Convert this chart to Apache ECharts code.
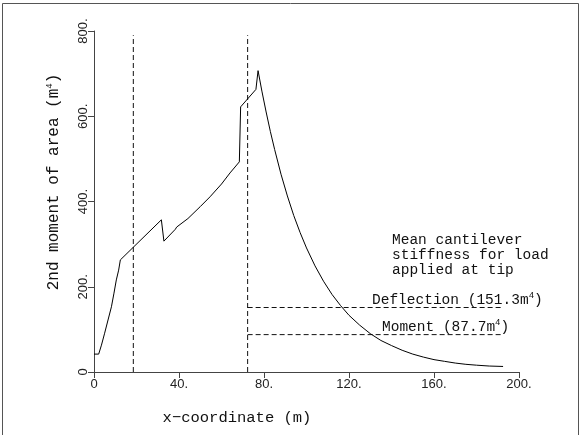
<!DOCTYPE html>
<html>
<head>
<meta charset="utf-8">
<script src="https://cdn.jsdelivr.net/npm/echarts@6/dist/echarts.min.js"></script>
<style>
  html, body { margin: 0; padding: 0; background: #fff; }
  #chart { width: 583px; height: 435px; }
</style>
</head>
<body>
<div id="chart"></div>
<script>
// Second moment of area along the x-coordinate
const sectionX = [0, 2.2, 3.5, 5, 6.6, 8.2, 9.4, 10.5, 11.6, 12.4, 31.7, 32.9, 38.3, 38.9, 39.8, 44.2, 50, 54.6, 60, 64, 68.4, 69, 76.2, 77.2,
  79, 81, 83, 85, 88, 91, 94, 97, 100, 104, 108, 112, 116, 120, 125, 130, 135, 140, 145, 150, 155, 160, 165, 170, 175, 180, 186, 192.5];
const sectionI = [42, 42, 63, 91, 122, 153, 185, 216, 239, 263, 357, 307, 335, 340, 339, 360, 388, 411, 441, 467, 493, 622, 663, 707,
  659, 610, 564, 522, 464, 413, 367, 327, 291, 249, 213, 182, 156, 133, 110, 90, 74, 62, 51, 42, 35, 29, 25, 21, 18, 16, 14, 13];

// Vertical reference positions (m) and their vertical extent
const markerX = [18.5, 72.3];
const markerTop = 790;

// Mean cantilever stiffness levels (m^4) and the x-range they span
const deflectionI = 151.3;
const momentI = 87.7;
const levelStartX = 72.3;
const levelEndX = 191.9;

const xTicks = [0, 40, 80, 120, 160, 200];
const yTicks = [0, 200, 400, 600, 800];

const fmt = v => (v === 0 ? '0' : v + '.');
const mono = 'Liberation Mono';

const curve = sectionX.map((x, i) => [x, sectionI[i]]);
const dashStyle = { color: '#111', width: 1, type: [5, 3] };

const series = [
  {
    type: 'line', data: curve, symbol: 'none', smooth: false,
    lineStyle: { color: '#000', width: 1 }, z: 5
  }
];
markerX.forEach(x => series.push({
  type: 'line', data: [[x, 0], [x, markerTop]], symbol: 'none', lineStyle: dashStyle
}));
[deflectionI, momentI].forEach(v => series.push({
  type: 'line', data: [[levelStartX, v], [levelEndX, v]], symbol: 'none', lineStyle: dashStyle
}));

const chart = echarts.init(document.getElementById('chart'), null, { renderer: 'canvas' });
const sup = { fontSize: 9, fontFamily: mono, padding: [0, 0, 8, 0], color: '#111' };

chart.setOption({
  animation: false,
  backgroundColor: '#fff',
  grid: { left: 94, right: 64, top: 31, bottom: 63, containLabel: false },
  xAxis: {
    type: 'value', min: xTicks[0], max: xTicks[xTicks.length - 1], interval: xTicks[1] - xTicks[0],
    axisLine: { show: true, lineStyle: { color: '#444', width: 1 } },
    axisTick: { show: true, length: 6, inside: false, lineStyle: { color: '#444' } },
    axisLabel: { formatter: fmt, fontFamily: 'Liberation Sans', fontSize: 13, color: '#222', margin: 6 },
    splitLine: { show: false }
  },
  yAxis: {
    type: 'value', min: yTicks[0], max: yTicks[yTicks.length - 1], interval: yTicks[1] - yTicks[0],
    axisLine: { show: true, lineStyle: { color: '#444', width: 1 } },
    axisTick: { show: true, length: 6, inside: false, lineStyle: { color: '#444' } },
    axisLabel: { formatter: fmt, rotate: 90, fontFamily: 'Liberation Sans', fontSize: 13, color: '#222', margin: 4 },
    splitLine: { show: false }
  },
  series: series,
  graphic: [
    { type: 'polyline', shape: { points: [[2.5, 435], [2.5, 3.5], [578.5, 3.5], [578.5, 435]] },
      style: { stroke: '#555', lineWidth: 1, fill: null }, silent: true },
    { type: 'text', x: 237, y: 418,
      style: { text: 'x−coordinate (m)', font: '15.5px "Liberation Mono"', fill: '#111', align: 'center', verticalAlign: 'middle' } },
    { type: 'text', x: 54, y: 182, rotation: Math.PI / 2,
      style: { text: '2nd moment of area (m{s|4})', font: '16px "Liberation Mono"', fill: '#111', align: 'center', verticalAlign: 'middle',
        rich: { s: sup } } },
    { type: 'text', x: 392, y: 255,
      style: { text: 'Mean cantilever\nstiffness for load\napplied at tip', font: '14.5px "Liberation Mono"', lineHeight: 15,
        fill: '#111', align: 'left', verticalAlign: 'middle' } },
    { type: 'text', x: 372, y: 300,
      style: { text: 'Deflection (151.3m{s|4})', font: '14.5px "Liberation Mono"', fill: '#111', align: 'left', verticalAlign: 'middle',
        rich: { s: sup } } },
    { type: 'text', x: 382, y: 327,
      style: { text: 'Moment (87.7m{s|4})', font: '14.5px "Liberation Mono"', fill: '#111', align: 'left', verticalAlign: 'middle',
        rich: { s: sup } } }
  ]
});
</script>
</body>
</html>
